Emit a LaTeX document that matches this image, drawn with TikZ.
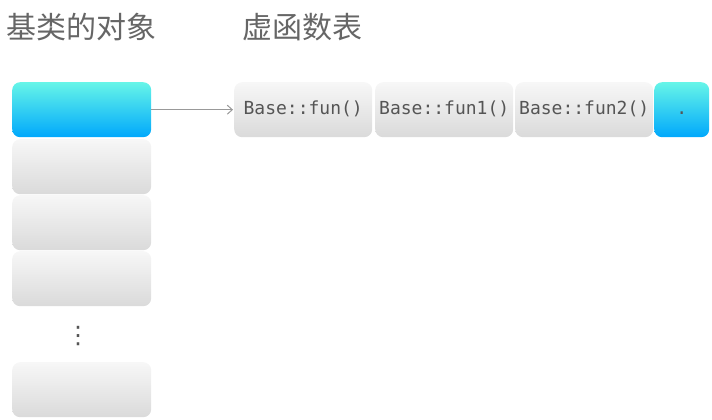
\documentclass[tikz,border=0pt]{standalone}
\usepackage{fontspec}
\usetikzlibrary{arrows.meta}
\newfontfamily\cjk{Noto Sans CJK SC}
\newfontfamily\dejavu{DejaVu Sans}
\setmonofont{DejaVu Sans Mono}
\definecolor{cyanT}{HTML}{66F5E8}
\definecolor{blueB}{HTML}{00A8FC}
\definecolor{greyT}{HTML}{F7F7F7}
\definecolor{greyB}{HTML}{DADADA}
\definecolor{titlec}{HTML}{666666}
\definecolor{textc}{HTML}{555555}
\definecolor{arrowc}{HTML}{999999}
\tikzset{
  boxbase/.style={rounded corners=8pt, draw=none, inner sep=0pt, anchor=north west,
    minimum height=55pt, text=textc, font=\ttfamily\fontsize{18}{20}\selectfont,
    text height=13pt, text depth=3.5pt},
  bluebox/.style={boxbase, top color=cyanT, bottom color=blueB},
  greybox/.style={boxbase, top color=greyT, bottom color=greyB},
  objbox/.style={minimum width=139pt},
  title/.style={text=titlec, font=\cjk\fontsize{30}{32}\selectfont, anchor=west, inner sep=0pt},
  link/.style={draw=arrowc, line width=1pt, -{Straight Barb[length=5pt,width=9pt]}}
}
\begin{document}
\begin{tikzpicture}[x=1pt,y=-1pt]
\useasboundingbox (0,0) rectangle (712,420);
\node[title] (t1) at (6,27) {基类的对象};
\node[title] (t2) at (242,27) {虚函数表};
\node[bluebox,objbox] (o1) at (12,82) {};
\node[greybox,objbox] (o2) at (12,139) {};
\node[greybox,objbox] (o3) at (12,195) {};
\node[greybox,objbox] (o4) at (12,251) {};
\node[text=textc, font=\dejavu\fontsize{24}{26}\selectfont, inner sep=0pt] (dots) at (78,336) {⋮};
\node[greybox,objbox] (o5) at (12,362) {};
\node[greybox,minimum width=138pt] (f0) at (234,82) {Base::fun()};
\node[greybox,minimum width=138pt] (f1) at (375,82) {Base::fun1()};
\node[greybox,minimum width=138pt] (f2) at (515,82) {Base::fun2()};
\node[bluebox,minimum width=55pt] (end) at (654,82) {.};
\draw[link] (o1.east) -- ([xshift=-1pt]f0.west);
\end{tikzpicture}
\end{document}
